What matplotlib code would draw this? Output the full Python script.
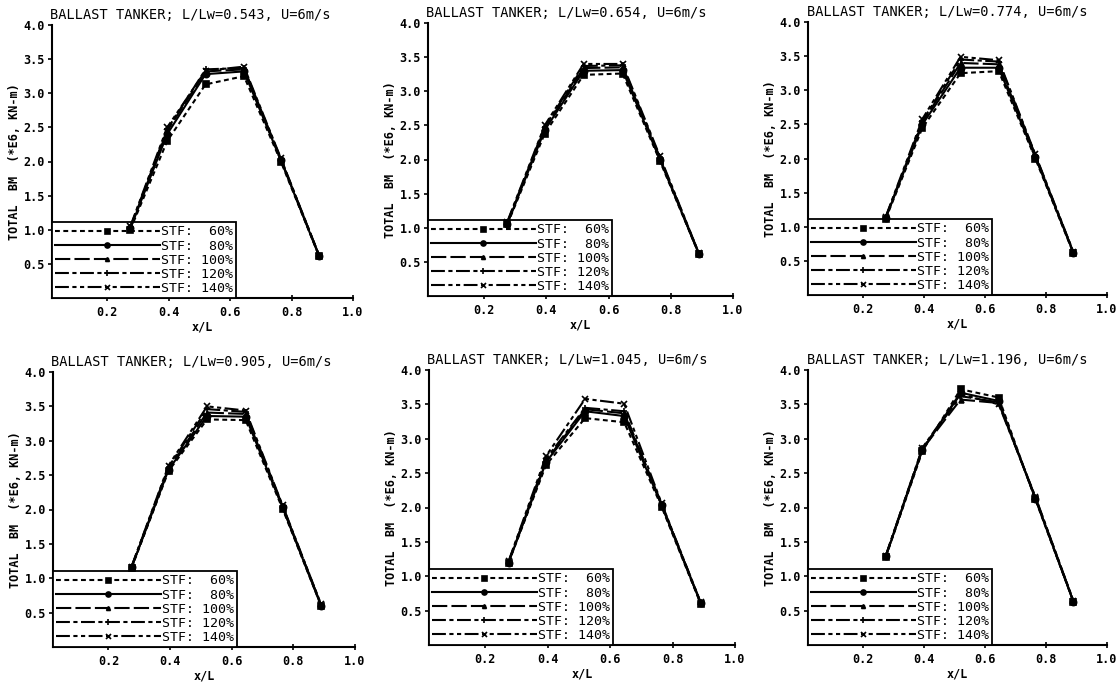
import matplotlib
matplotlib.use("Agg")
import matplotlib.pyplot as plt

plt.rcParams['lines.scale_dashes'] = False
plt.rcParams['font.family'] = ['DejaVu Sans Mono', 'DejaVu Sans']

# ---------------- data ----------------
x_over_L = [0.275, 0.395, 0.52, 0.645, 0.765, 0.89]
stf_labels = ["STF:  60%", "STF:  80%", "STF: 100%", "STF: 120%", "STF: 140%"]
l_over_lw = ["0.543", "0.654", "0.774", "0.905", "1.045", "1.196"]
x_ticks = [0.2, 0.4, 0.6, 0.8, 1.0]
y_ticks = [0.5, 1.0, 1.5, 2.0, 2.5, 3.0, 3.5, 4.0]

# rows: STF 60, 80, 100, 120, 140 %
bm_0543 = [[1.00, 2.30, 3.13, 3.25, 2.00, 0.61],
           [1.02, 2.40, 3.28, 3.32, 2.02, 0.61],
           [1.03, 2.45, 3.32, 3.35, 2.03, 0.62],
           [1.04, 2.47, 3.35, 3.37, 2.04, 0.62],
           [1.05, 2.50, 3.33, 3.39, 2.05, 0.62]]
bm_0654 = [[1.05, 2.38, 3.24, 3.26, 1.98, 0.62],
           [1.06, 2.43, 3.30, 3.31, 2.00, 0.62],
           [1.07, 2.46, 3.34, 3.35, 2.02, 0.62],
           [1.08, 2.48, 3.37, 3.38, 2.03, 0.63],
           [1.09, 2.50, 3.40, 3.40, 2.05, 0.63]]
bm_0774 = [[1.12, 2.45, 3.25, 3.28, 2.00, 0.61],
           [1.13, 2.50, 3.33, 3.33, 2.02, 0.62],
           [1.14, 2.53, 3.40, 3.38, 2.04, 0.62],
           [1.14, 2.55, 3.45, 3.42, 2.05, 0.62],
           [1.15, 2.58, 3.49, 3.44, 2.06, 0.63]]
bm_0905 = [[1.15, 2.56, 3.31, 3.30, 2.01, 0.60],
           [1.16, 2.58, 3.36, 3.35, 2.03, 0.60],
           [1.16, 2.60, 3.41, 3.39, 2.04, 0.61],
           [1.17, 2.62, 3.46, 3.42, 2.05, 0.61],
           [1.17, 2.64, 3.50, 3.44, 2.06, 0.62]]
bm_1045 = [[1.20, 2.62, 3.30, 3.24, 2.01, 0.60],
           [1.20, 2.66, 3.40, 3.33, 2.03, 0.61],
           [1.21, 2.68, 3.43, 3.37, 2.04, 0.61],
           [1.21, 2.71, 3.45, 3.40, 2.05, 0.62],
           [1.22, 2.75, 3.58, 3.51, 2.06, 0.62]]
bm_1196 = [[1.28, 2.82, 3.72, 3.60, 2.12, 0.63],
           [1.29, 2.84, 3.67, 3.55, 2.13, 0.63],
           [1.29, 2.85, 3.57, 3.52, 2.14, 0.63],
           [1.30, 2.86, 3.62, 3.53, 2.15, 0.64],
           [1.30, 2.87, 3.65, 3.50, 2.16, 0.64]]
all_bm = [bm_0543, bm_0654, bm_0774, bm_0905, bm_1045, bm_1196]

# ---------------- styles ----------------
line_styles = [(0, (3.5, 2.5)), '-', (0, (11, 3)), (0, (10, 2.5, 3, 2.5)),
               (0, (10, 2.5, 3, 2.5, 3, 2.5))]
markers = ['s', 'o', '^', '+', 'x']
msizes = [4.5, 4.5, 3.5, 5, 4.5]

W, H = 1120, 682
# axes boxes in pixels: left, right, top, bottom
boxes = [(52, 353, 25, 298), (428, 733, 23, 296), (808, 1107, 22, 295),
         (53, 355, 372, 647), (429, 735, 370, 645), (808, 1107, 370, 645)]

fig = plt.figure(figsize=(W / 100, H / 100), dpi=100)

for i, (box, data, r) in enumerate(zip(boxes, all_bm, l_over_lw)):
    l, rgt, t, b = box
    ax = fig.add_axes([l / W, 1 - b / H, (rgt - l) / W, (b - t) / H])
    for k in range(5):
        ax.plot(x_over_L, data[k], color='black', lw=1.5, linestyle=line_styles[k],
                marker=markers[k], markersize=msizes[k], markeredgewidth=1.2,
                label=stf_labels[k], zorder=4)
    ax.set_xlim(0.02, 1.0)
    ax.set_ylim(0.0, 4.0)
    ax.set_xticks(x_ticks)
    ax.set_yticks(y_ticks)
    ax.set_xticklabels([f"{v:.1f}" for v in x_ticks], fontsize=8.5, fontweight='bold')
    ax.set_yticklabels([f"{v:.1f}" for v in y_ticks], fontsize=8.5, fontweight='bold')
    ax.tick_params(axis='x', direction='inout', length=5, width=1.2, pad=3)
    ax.tick_params(axis='y', direction='out', length=3, width=1.2, pad=2)
    for s in ['top', 'right']:
        ax.spines[s].set_visible(False)
    for s in ['left', 'bottom']:
        ax.spines[s].set_linewidth(1.5)
    ax.set_title(f"BALLAST TANKER; L/Lw={r}, U=6m/s", loc='left', fontsize=9.8,
                 pad=4, x=-0.005)
    ax.set_xlabel("x/L", fontsize=8.5, fontweight='bold', labelpad=1)
    ax.set_ylabel("TOTAL  BM  (*E6, KN-m)", fontsize=8.5, fontweight='bold', labelpad=2)
    leg = ax.legend(loc='lower left', bbox_to_anchor=(0, 0), borderaxespad=0,
                    fontsize=9.5, handlelength=7.9, handletextpad=0.1,
                    labelspacing=0.08, borderpad=0.25, numpoints=1,
                    fancybox=False, framealpha=1, edgecolor='black',
                    markerscale=0.8)
    leg.get_frame().set_linewidth(1.3)
    leg.set_zorder(3)

fig.savefig("out.png", dpi=100)
